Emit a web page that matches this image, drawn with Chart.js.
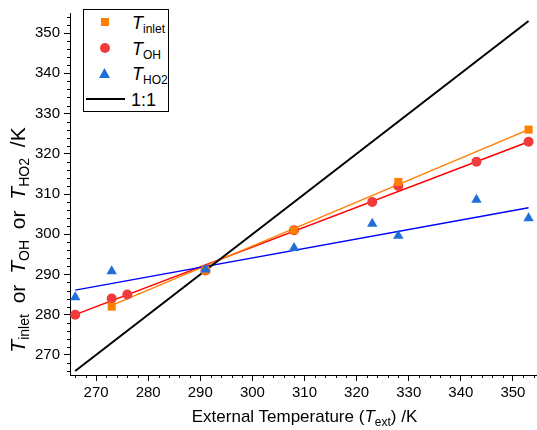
<!DOCTYPE html>
<html lang="en">
<head>
  <meta charset="UTF-8">
  <title>T vs external temperature</title>
  <script src="https://cdn.jsdelivr.net/npm/chart.js"></script>
  <style>
    html, body {
      margin: 0;
      padding: 0;
      background: #fff;
      overflow: hidden;
    }
    #wrap {
      position: relative;
      width: 545px;
      height: 430px;
      font-family: 'Liberation Sans', Arial, sans-serif;
      color: #000;
    }
    #chart {
      position: absolute;
      left: 0;
      top: 0;
    }
    .sub {
      font-size: 12px;
      position: relative;
      top: 4px;
    }
    #legend {
      position: absolute;
      left: 83px;
      top: 9px;
      width: 84px;
      height: 101px;
      border: 1px solid #000;
      background: #fff;
    }
    #legend .mk, #legend .txt {
      position: absolute;
    }
    #legend .txt {
      font-size: 18px;
      line-height: 18px;
      white-space: nowrap;
    }
    #xtitle {
      position: absolute;
      left: 70px;
      width: 469px;
      top: 408px;
      text-align: center;
      font-size: 17px;
      line-height: 18px;
      white-space: nowrap;
    }
    #ytitle {
      position: absolute;
      width: 340px;
      height: 24px;
      left: -152px;
      top: 228px;
      text-align: center;
      font-size: 21px;
      line-height: 24px;
      word-spacing: 5px;
      white-space: nowrap;
      transform: rotate(-90deg);
    }
    #ytitle .sub {
      font-size: 14px;
    }
  </style>
</head>
<body>

<div id="wrap">
  <canvas id="chart" width="545" height="430"></canvas>

  <div id="legend">
    <div class="mk" style="left:17px;top:8px;width:8px;height:8px;background:#ff7f00;"></div>
    <div class="mk" style="left:16px;top:33px;width:10px;height:10px;border-radius:50%;background:#ef3b3b;"></div>
    <div class="mk" style="left:15px;top:58px;width:11px;height:10px;background:#1f6fdb;clip-path:polygon(50% 0,100% 100%,0 100%);"></div>
    <div class="mk" style="left:2px;top:88px;width:39px;height:2px;background:#000;"></div>
    <div class="txt" style="left:48px;top:4px;"><i>T</i><span class="sub">inlet</span></div>
    <div class="txt" style="left:48px;top:30px;"><i>T</i><span class="sub">OH</span></div>
    <div class="txt" style="left:48px;top:55px;"><i>T</i><span class="sub">HO2</span></div>
    <div class="txt" style="left:47px;top:81px;">1:1</div>
  </div>

  <div id="xtitle">External Temperature (<i>T</i><span class="sub">ext</span>) /K</div>
  <div id="ytitle"><i>T</i><span class="sub">inlet</span> or <i>T</i><span class="sub">OH</span> or <i>T</i><span class="sub">HO2</span> /K</div>
</div>

<script>
  // measured points
  const inletX = [273, 291, 308, 328, 353];
  const inletY = [282, 291, 301, 313, 326];

  const ohX = [266, 273, 276, 291, 308, 323, 328, 343, 353];
  const ohY = [280, 284, 285, 291, 301, 308, 312, 318, 323];

  const ho2X = [266, 273, 291, 308, 323, 328, 343, 353];
  const ho2Y = [284.3, 290.8, 291.2, 296.6, 302.6, 299.6, 308.6, 304.0];

  // fitted lines (end points)
  const fitInletX = [273, 353];
  const fitInletY = [282.3, 326];
  const fitOhX = [266, 353];
  const fitOhY = [280, 323];
  const fitHo2X = [266, 353];
  const fitHo2Y = [286.1, 306.6];
  const oneToOneX = [266, 353];
  const oneToOneY = [266, 353];

  // axes
  const axisMin = 265;
  const axisMax = 355;
  const majorTicks = [270, 280, 290, 300, 310, 320, 330, 340, 350];
  const minorStep = 2;

  const pts = (xs, ys) => xs.map((x, i) => ({ x: x, y: ys[i] }));

  const lineSet = (xs, ys, color, width) => ({
    data: pts(xs, ys),
    showLine: true,
    borderColor: color,
    borderWidth: width,
    pointRadius: 0,
    fill: false,
    order: 2
  });

  // minor ticks, drawn with the scales' own pixel mapping
  const minorTicks = {
    id: 'minorTicks',
    afterDraw(chart) {
      const ctx = chart.ctx;
      const xs = chart.scales.x, ys = chart.scales.y;
      ctx.save();
      ctx.strokeStyle = '#000';
      ctx.lineWidth = 1;
      ctx.beginPath();
      for (let v = axisMin + 1; v <= axisMax; v += minorStep) {
        if (majorTicks.includes(v)) continue;
        const px = Math.round(xs.getPixelForValue(v)) + 0.5;
        ctx.moveTo(px, xs.top);
        ctx.lineTo(px, xs.top + 3);
        const py = Math.round(ys.getPixelForValue(v)) + 0.5;
        ctx.moveTo(ys.right, py);
        ctx.lineTo(ys.right - 3, py);
      }
      ctx.stroke();
      ctx.restore();
    }
  };

  const tickFont = { family: "'Liberation Sans', Arial, sans-serif", size: 15 };

  const setMajor = scale => {
    scale.ticks = majorTicks.map(v => ({ value: v }));
  };

  new Chart(document.getElementById('chart'), {
    type: 'scatter',
    data: {
      datasets: [
        lineSet(oneToOneX, oneToOneY, '#000000', 2),
        lineSet(fitHo2X, fitHo2Y, '#0000ff', 1.5),
        lineSet(fitInletX, fitInletY, '#ff8000', 1.5),
        lineSet(fitOhX, fitOhY, '#ff0000', 1.5),
        {
          data: pts(inletX, inletY),
          pointStyle: 'rect',
          pointRadius: 5.7,
          backgroundColor: '#ff7f00',
          borderWidth: 0,
          order: 1
        },
        {
          data: pts(ohX, ohY),
          pointStyle: 'circle',
          pointRadius: 5,
          backgroundColor: '#ef3b3b',
          borderWidth: 0,
          order: 1
        },
        {
          data: pts(ho2X, ho2Y),
          pointStyle: 'triangle',
          pointRadius: 6,
          backgroundColor: '#1f6fdb',
          borderWidth: 0,
          order: 0
        }
      ]
    },
    options: {
      responsive: false,
      animation: false,
      devicePixelRatio: 1,
      events: [],
      layout: { padding: { top: 12, right: 6, left: 0, bottom: 0 } },
      plugins: {
        legend: { display: false },
        tooltip: { enabled: false }
      },
      scales: {
        x: {
          type: 'linear',
          min: axisMin,
          max: axisMax,
          afterBuildTicks: setMajor,
          afterFit: s => { s.height = 55; },
          border: { display: true, color: '#000', width: 1 },
          grid: { drawOnChartArea: false, drawTicks: true, tickLength: 6, tickColor: '#000' },
          ticks: { color: '#000', font: tickFont, padding: 3, maxRotation: 0 }
        },
        y: {
          type: 'linear',
          min: axisMin,
          max: axisMax,
          afterBuildTicks: setMajor,
          afterFit: s => { s.width = 70; },
          border: { display: true, color: '#000', width: 1 },
          grid: { drawOnChartArea: false, drawTicks: true, tickLength: 6, tickColor: '#000' },
          ticks: { color: '#000', font: tickFont, padding: 4 }
        }
      }
    },
    plugins: [minorTicks]
  });
</script>

</body>
</html>
